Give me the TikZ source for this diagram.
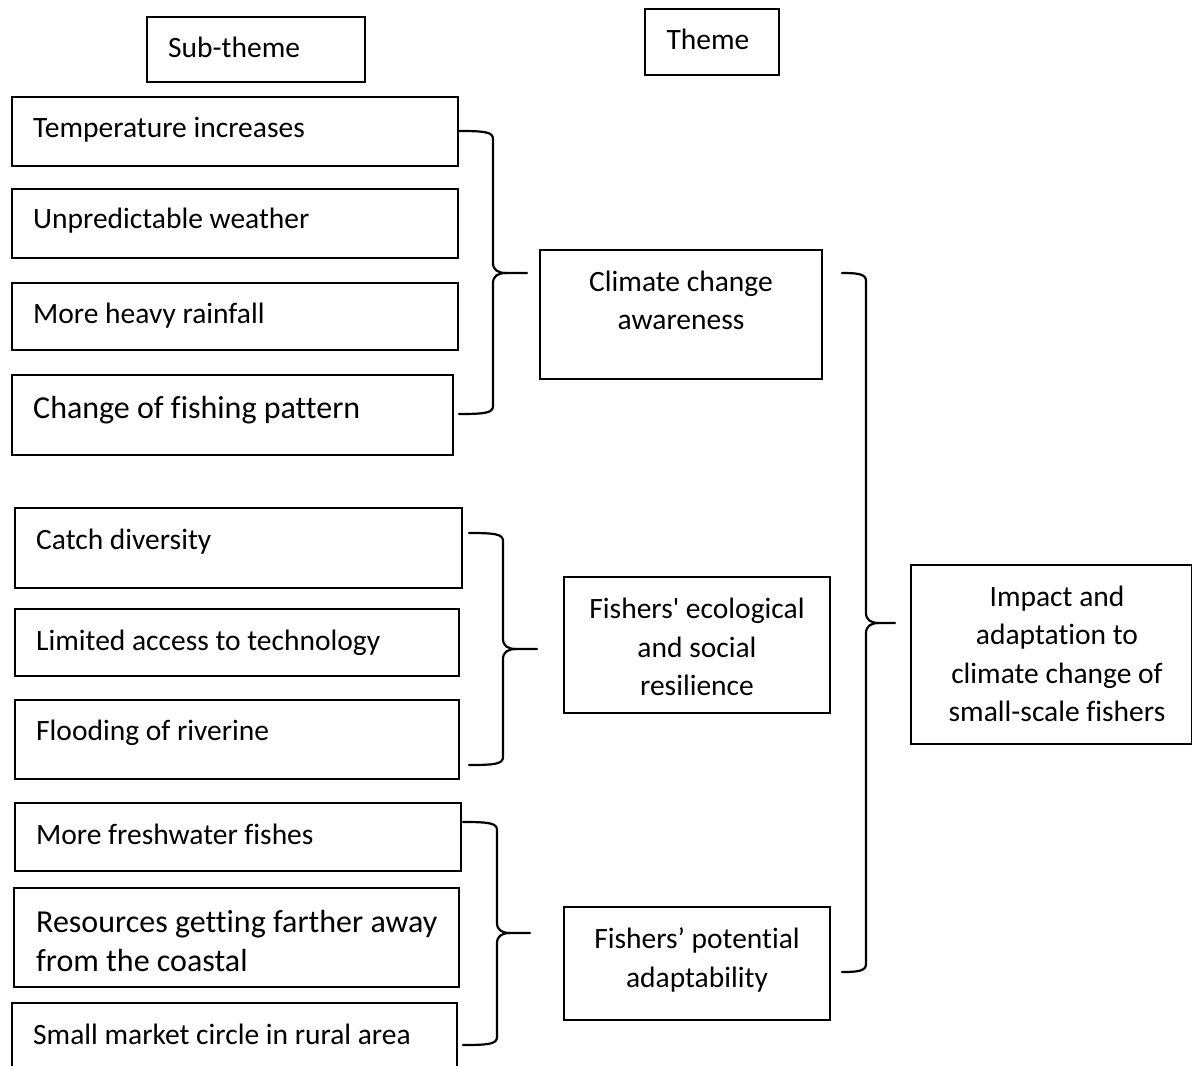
\documentclass[tikz,border=0pt]{standalone}
\usepackage{fontspec}
\newfontfamily\carfont{Carlito}[Ligatures=NoCommon]
\usetikzlibrary{calc}
\tikzset{
  box/.style={draw=black, line width=2pt, inner sep=0pt, fill=none},
  lbl/.style={inner sep=0pt, font=\carfont\fontsize{29.5}{38.5}\selectfont},
  lblbig/.style={inner sep=0pt, font=\carfont\fontsize{32}{38.5}\selectfont},
  brace/.style={draw=black, line width=2.2pt, line cap=round, line join=round}
}
\newcommand{\bracepath}[6]{% xa, ytop, xv, tipx, ytip, ybot  (xa at both ends)
  \draw[brace] (#1,#2) .. controls (#3-8,#2) and (#3,#2+1) .. (#3,#2+8)
     -- (#3,#5-10) .. controls (#3,#5-3) and (#3+5,#5) .. (#3+13,#5) -- (#4,#5);
  \draw[brace] (#3+13,#5) .. controls (#3+5,#5) and (#3,#5+3) .. (#3,#5+10)
     -- (#3,#6-8) .. controls (#3,#6-1) and (#3-8,#6) .. (#1,#6);
}
\begin{document}
\begin{tikzpicture}[x=1pt,y=-1pt]
\useasboundingbox (0,0) rectangle (1192,1066);

% header boxes
\node[box, minimum width=218, minimum height=65] (hsub) at (256,49.5) {};
\node[lbl, anchor=base west] (hsubt) at (168,57) {Sub-theme};
\node[box, minimum width=134, minimum height=66] (hth) at (712,42) {};
\node[lbl, anchor=base] (htht) at (708,49) {Theme};

% group 1 sub-themes
\node[box, minimum width=446, minimum height=69] (s1) at (235,131.5) {};
\node[lbl, anchor=base west] (s1t) at (33,137) {Temperature increases};
\node[box, minimum width=446, minimum height=69] (s2) at (235,223.5) {};
\node[lbl, anchor=base west] (s2t) at (33,228) {Unpredictable weather};
\node[box, minimum width=446, minimum height=67] (s3) at (235,316.5) {};
\node[lbl, anchor=base west] (s3t) at (33,323) {More heavy rainfall};
\node[box, minimum width=441, minimum height=80] (s4) at (232.5,415) {};
\node[lblbig, anchor=base west] (s4t) at (33,418) {Change of fishing pattern};

% group 2 sub-themes
\node[box, minimum width=447, minimum height=80] (s5) at (238.5,548) {};
\node[lbl, anchor=base west] (s5t) at (36,549) {Catch diversity};
\node[box, minimum width=444, minimum height=67] (s6) at (237,642.5) {};
\node[lbl, anchor=base west] (s6t) at (36,650) {Limited access to technology};
\node[box, minimum width=444, minimum height=79] (s7) at (237,739.5) {};
\node[lbl, anchor=base west] (s7t) at (36,740) {Flooding of riverine};

% group 3 sub-themes
\node[box, minimum width=446, minimum height=68] (s8) at (238,837) {};
\node[lbl, anchor=base west] (s8t) at (36,844) {More freshwater fishes};
\node[box, minimum width=445, minimum height=99] (s9) at (236.5,937.5) {};
\node[lblbig, anchor=west, align=left] (s9t) at (36,941) {Resources getting farther away\\from the coastal};
\node[box, minimum width=445, minimum height=80] (s10) at (234.5,1043) {};
\node[lbl, anchor=base west] (s10t) at (33,1044) {Small market circle in rural area};

% themes
\node[box, minimum width=282, minimum height=129] (t1) at (681,314.5) {};
\node[lbl, align=center] (t1t) at (681,300.5) {Climate change\\awareness};
\node[box, minimum width=266, minimum height=136] (t2) at (697,645) {};
\node[lbl, align=center] (t2t) at (697,647) {Fishers' ecological\\and social\\resilience};
\node[box, minimum width=266, minimum height=113] (t3) at (697,963.5) {};
\node[lbl, align=center] (t3t) at (697,960) {Fishers’ potential\\adaptability};

% main theme
\node[box, minimum width=281, minimum height=179] (m) at (1051,654.5) {};
\node[lbl, align=center] (mt) at (1057,654) {Impact and\\adaptation to\\climate change of\\small-scale fishers};

% braces
\bracepath{459}{131}{493}{527}{273}{414}
\bracepath{469}{533}{503}{537}{649}{765}
\bracepath{463}{822}{497}{530}{933}{1045}
\bracepath{842}{273}{866}{895}{623}{972}
\end{tikzpicture}
\end{document}
